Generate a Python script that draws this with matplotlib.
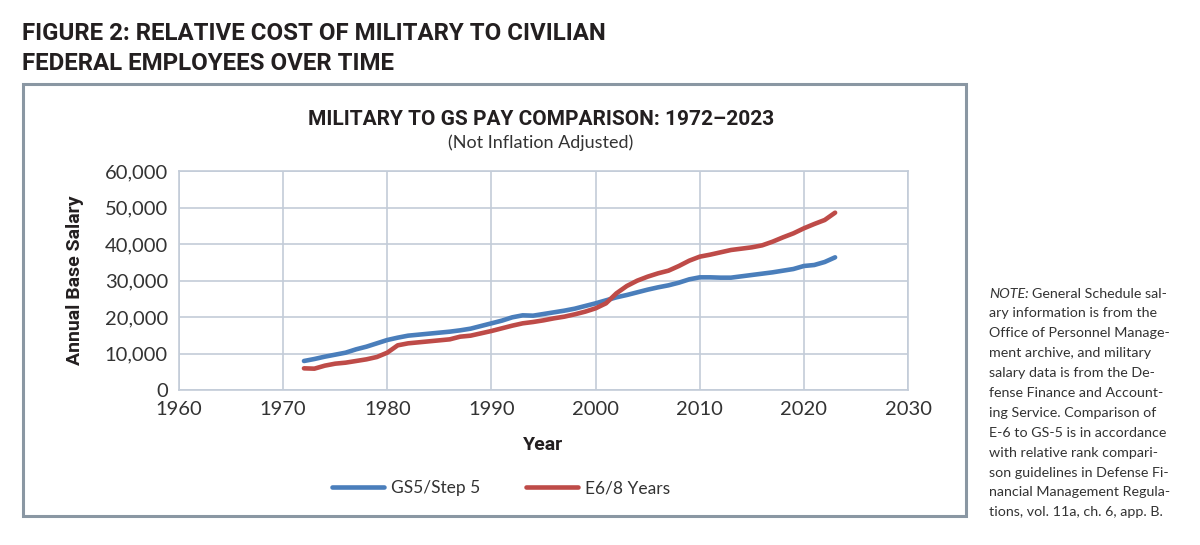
import matplotlib
matplotlib.use("Agg")
import matplotlib.pyplot as plt
from matplotlib.patches import Rectangle
from matplotlib import font_manager as fm

years = list(range(1972, 2024))
gs5_step5 = [7945, 8493, 9132, 9680, 10228, 11142, 11872, 12785, 13699, 14338,
             14886, 15160, 15434, 15708, 15982, 16347, 16804, 17534, 18265, 18995,
             19909, 20457, 20365, 20822, 21279, 21735, 22283, 23014, 23744, 24566,
             25388, 26027, 26758, 27489, 28128, 28676, 29406, 30320, 30868, 30868,
             30776, 30776, 31142, 31507, 31872, 32237, 32694, 33151, 33973, 34247,
             35068, 36347]
e6_8years = [5936, 5845, 6667, 7215, 7489, 7945, 8402, 9041, 10228, 12237,
             12785, 13059, 13333, 13607, 13881, 14612, 14886, 15525, 16164, 16895,
             17626, 18265, 18630, 19087, 19635, 20091, 20731, 21461, 22374, 23744,
             26484, 28493, 29954, 31050, 31963, 32694, 33973, 35434, 36530, 37078,
             37717, 38356, 38721, 39087, 39635, 40639, 41826, 42922, 44292, 45479,
             46575, 48584]
series_labels = ["GS5/Step 5", "E6/8 Years"]
x_ticks = [1960, 1970, 1980, 1990, 2000, 2010, 2020, 2030]
y_ticks = [0, 10000, 20000, 30000, 40000, 50000, 60000]

fig_title = ["FIGURE 2: RELATIVE COST OF MILITARY TO CIVILIAN", "FEDERAL EMPLOYEES OVER TIME"]
chart_title = "MILITARY TO GS PAY COMPARISON: 1972\u20132023"
chart_subtitle = "(Not Inflation Adjusted)"
note_lines = [
    "General Schedule sal-",
    "ary information is from the",
    "Office of Personnel Manage-",
    "ment archive, and military",
    "salary data is from the De-",
    "fense Finance and Account-",
    "ing Service. Comparison of",
    "E-6 to GS-5 is in accordance",
    "with relative rank compari-",
    "son guidelines in Defense Fi-",
    "nancial Management Regula-",
    "tions, vol. 11a, ch. 6, app. B.",
]

names = {f.name for f in fm.fontManager.ttflist}
COND = ["Liberation Sans Narrow", "DejaVu Sans"] if "Liberation Sans Narrow" in names else ["Roboto", "DejaVu Sans"]
LIGHT = ["Lato", "DejaVu Sans"]

W, H = 1200, 545
fig = plt.figure(figsize=(W / 100, H / 100), dpi=100)
fig.patch.set_facecolor("white")

def fx(px):
    return px / W

def fy(py):
    return 1 - py / H

# outer chart frame
fig.patches.append(Rectangle((fx(23), fy(516)), fx(966) - fx(23), fy(84) - fy(516),
                             transform=fig.transFigure, fill=False,
                             edgecolor="#8a97a3", linewidth=2.2))

# figure title
fig.text(fx(22), fy(33), fig_title[0], family=COND, weight="bold", fontsize=17.3,
         color="#231f20", va="center", ha="left")
fig.text(fx(22), fy(64), fig_title[1], family=COND, weight="bold", fontsize=17.3,
         color="#231f20", va="center", ha="left")

fig.text(fx(541), fy(119), chart_title, family=COND, weight="bold", fontsize=15,
         color="#231f20", va="center", ha="center")
fig.text(fx(541), fy(143), chart_subtitle, family=LIGHT, fontsize=13,
         color="#333333", va="center", ha="center")

ax = fig.add_axes([fx(179), fy(390), fx(908) - fx(179), fy(171) - fy(390)])
grid_c = "#c3ccd8"
ax.plot(years, gs5_step5, color="#4a7ebb", lw=3.3, solid_capstyle="round", label=series_labels[0])
ax.plot(years, e6_8years, color="#be4b48", lw=3.3, solid_capstyle="round", label=series_labels[1])
ax.set_xlim(1960, 2030)
ax.set_ylim(0, 60000)
ax.set_xticks(x_ticks)
ax.set_yticks(y_ticks)
ax.set_yticklabels([f"{v:,}" for v in y_ticks])
ax.grid(True, color=grid_c, lw=1.2)
ax.set_axisbelow(True)
for s in ax.spines.values():
    s.set_color(grid_c)
    s.set_linewidth(1.2)
ax.tick_params(length=0, labelsize=14.5, colors="#333333", pad=8)
for lab in ax.get_xticklabels() + ax.get_yticklabels():
    lab.set_family(LIGHT)
ax.set_xlabel("Year", family=COND, weight="bold", fontsize=14, color="#231f20", labelpad=13)
ax.set_ylabel("Annual Base Salary", family=COND, weight="bold", fontsize=14, color="#231f20", labelpad=15)

leg = fig.legend(loc="center", bbox_to_anchor=(fx(501), fy(488)), ncol=2, frameon=False,
                 prop={"family": LIGHT, "size": 12.5}, handlelength=3.0, columnspacing=2.6,
                 handletextpad=0.4)
for t in leg.get_texts():
    t.set_color("#333333")

# note
fig.canvas.draw()
renderer = fig.canvas.get_renderer()
x0, y0, dy = 989, 293.5, 19.9
nt = fig.text(fx(x0), fy(y0), "NOTE:", family=LIGHT, style="italic", fontsize=10.3,
              color="#333333", va="center", ha="left")
bb = nt.get_window_extent(renderer)
for i, line in enumerate(note_lines):
    if i == 0:
        xs = bb.x1 / W + fx(3.5)
    else:
        xs = fx(x0)
    fig.text(xs, fy(y0 + i * dy), line, family=LIGHT, fontsize=10.3,
             color="#333333", va="center", ha="left")

fig.savefig("out.png", dpi=100, facecolor="white")
